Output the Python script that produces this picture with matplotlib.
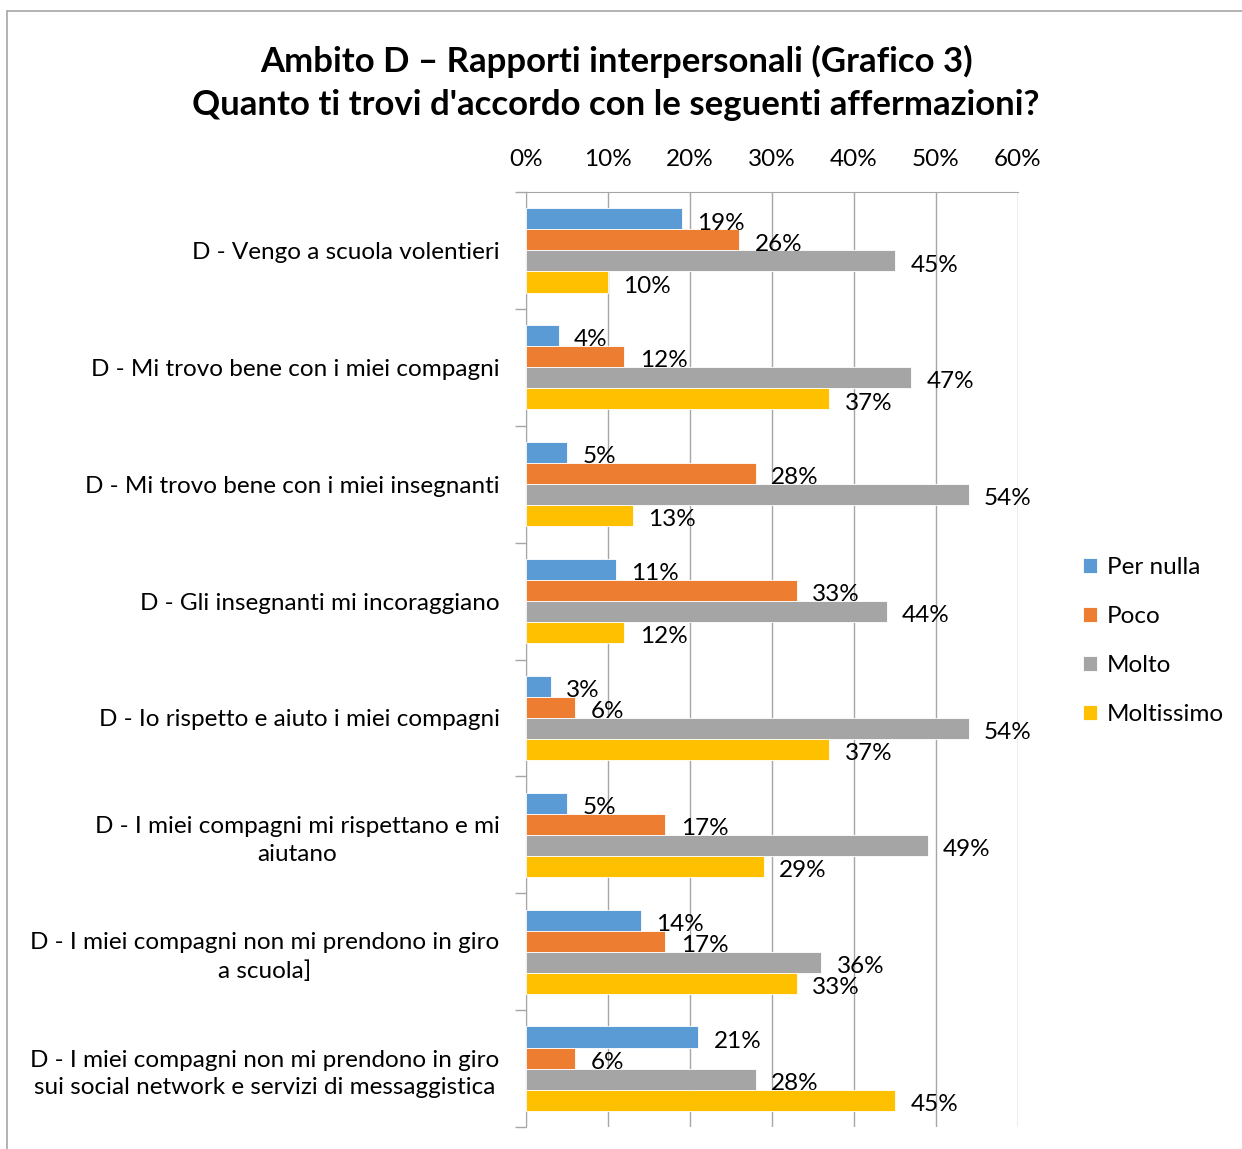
import matplotlib.pyplot as plt
import numpy as np

plt.rcParams['font.family'] = ['Lato', 'DejaVu Sans']

# data
categories = [
    'D - Vengo a scuola volentieri',
    'D - Mi trovo bene con i miei compagni',
    'D - Mi trovo bene con i miei insegnanti',
    'D - Gli insegnanti mi incoraggiano',
    'D - Io rispetto e aiuto i miei compagni',
    'D - I miei compagni mi rispettano e mi\naiutano',
    'D - I miei compagni non mi prendono in giro\na scuola]',
    'D - I miei compagni non mi prendono in giro\nsui social network e servizi di messaggistica',
]
per_nulla = [19, 4, 5, 11, 3, 5, 14, 21]
poco = [26, 12, 28, 33, 6, 17, 17, 6]
molto = [45, 47, 54, 44, 54, 49, 36, 28]
moltissimo = [10, 37, 13, 12, 37, 29, 33, 45]
series_names = ['Per nulla', 'Poco', 'Molto', 'Moltissimo']
colors = ['#5B9BD5', '#ED7D31', '#A5A5A5', '#FFC000']

fig = plt.figure(figsize=(12.42, 11.49), dpi=100)
ax = fig.add_axes([526/1242, 1-1127/1149, 492/1242, 935/1149])

# chart border
fig.patches.append(plt.Rectangle((7/1242, -0.01), 1.0, 1-11/1149+0.01,
                                 transform=fig.transFigure, fill=False,
                                 edgecolor='#a6a6a6', linewidth=1.2))

y = np.arange(len(categories))
h = 0.18
all_series = [per_nulla, poco, molto, moltissimo]
for i, (vals, name, c) in enumerate(zip(all_series, series_names, colors)):
    pos = y + (i - 1.5) * h
    ax.barh(pos, vals, height=h, color=c, edgecolor='white', linewidth=0.6,
            label=name, zorder=3)
    for p, v in zip(pos, vals):
        ax.annotate(f'{v}%', (v, p), xytext=(11, -3), textcoords='offset points',
                    va='center', ha='left', fontsize=17.5, color='black', zorder=4)

ax.set_xlim(0, 60)
ax.set_ylim(len(categories) - 0.5, -0.5)
ax.set_xticks(range(0, 61, 10))
ax.set_xticklabels([f'{t}%' for t in range(0, 61, 10)], fontsize=17.5)
ax.xaxis.tick_top()
ax.tick_params(axis='x', length=0, pad=16)
ax.grid(axis='x', color='#a6a6a6', linewidth=1, zorder=0)

ax.set_yticks(y)
ax.set_yticklabels(categories, fontsize=17.5, ha='right', multialignment='center',
                   linespacing=1.4)
ax.tick_params(axis='y', length=0, pad=19)
ax.set_yticks(np.arange(-0.5, len(categories), 1), minor=True)
ax.tick_params(axis='y', which='minor', length=8, color='#a6a6a6', width=1)

for s in ['right', 'bottom']:
    ax.spines[s].set_visible(False)
ax.spines['left'].set_color('#a6a6a6')
ax.spines['top'].set_color('#a6a6a6')

fig.text(616/1242, 1-61/1149, 'Ambito D \u2013 Rapporti interpersonali (Grafico 3)',
         ha='center', va='center', fontsize=25, fontweight='bold')
fig.text(616/1242, 1-105/1149, "Quanto ti trovi d'accordo con le seguenti affermazioni?",
         ha='center', va='center', fontsize=25, fontweight='bold')

fig.legend(loc='center left', bbox_to_anchor=(1061/1242, 1-641/1149),
           frameon=False, fontsize=17.5, handlelength=0.6, handleheight=0.6,
           labelspacing=1.15, handletextpad=0.4)

fig.savefig('out.png', dpi=100)
